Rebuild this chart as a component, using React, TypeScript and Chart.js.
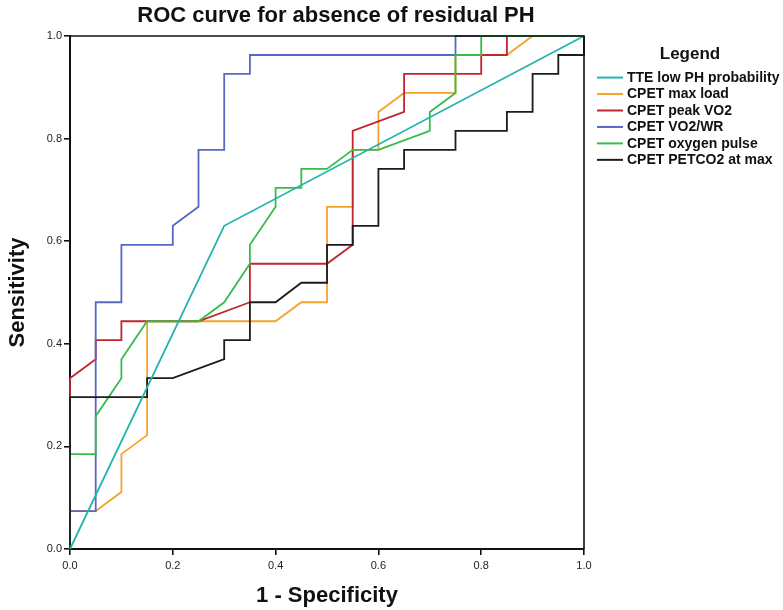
import React, { useEffect, useRef } from "react";
import { Chart, registerables } from "chart.js";

Chart.register(...registerables);

const TITLE = "ROC curve for absence of residual PH";
const X_TITLE = "1 - Specificity";
const Y_TITLE = "Sensitivity";
const LEGEND_TITLE = "Legend";

const seriesNames = [
  "TTE low PH probability",
  "CPET max load",
  "CPET peak VO2",
  "CPET VO2/WR",
  "CPET oxygen pulse",
  "CPET PETCO2 at max",
];
const seriesColors = ["#24b4ac", "#f5a32a", "#c2252f", "#5568c4", "#36bd4c", "#1c1c1c"];

const tteX = [0, 0.3, 1];
const tteY = [0, 0.63, 1];

const maxLoadX = [0, 0, 0.05, 0.1, 0.1, 0.15, 0.15, 0.4, 0.45, 0.5, 0.5, 0.55, 0.55, 0.6, 0.6, 0.65, 0.75, 0.75, 0.85, 0.9, 1];
const maxLoadY = [0, 0.074, 0.074, 0.111, 0.185, 0.222, 0.444, 0.444, 0.481, 0.481, 0.667, 0.667, 0.778, 0.778, 0.852, 0.889, 0.889, 0.963, 0.963, 1, 1];

const peakVO2X = [0, 0, 0.05, 0.05, 0.1, 0.1, 0.25, 0.35, 0.35, 0.5, 0.55, 0.55, 0.65, 0.65, 0.8, 0.8, 0.85, 0.85, 1];
const peakVO2Y = [0, 0.333, 0.37, 0.407, 0.407, 0.444, 0.444, 0.481, 0.556, 0.556, 0.593, 0.815, 0.852, 0.926, 0.926, 0.963, 0.963, 1, 1];

const vo2wrX = [0, 0, 0.05, 0.05, 0.1, 0.1, 0.2, 0.2, 0.25, 0.25, 0.3, 0.3, 0.35, 0.35, 0.75, 0.75, 1];
const vo2wrY = [0, 0.074, 0.074, 0.481, 0.481, 0.593, 0.593, 0.63, 0.667, 0.778, 0.778, 0.926, 0.926, 0.963, 0.963, 1, 1];

const o2PulseX = [0, 0, 0.05, 0.05, 0.1, 0.1, 0.15, 0.25, 0.3, 0.35, 0.35, 0.4, 0.4, 0.45, 0.45, 0.5, 0.55, 0.6, 0.7, 0.7, 0.75, 0.75, 0.8, 0.8, 1];
const o2PulseY = [0, 0.185, 0.185, 0.259, 0.333, 0.37, 0.444, 0.444, 0.481, 0.556, 0.593, 0.667, 0.704, 0.704, 0.741, 0.741, 0.778, 0.778, 0.815, 0.852, 0.889, 0.963, 0.963, 1, 1];

const petco2X = [0, 0, 0.15, 0.15, 0.2, 0.3, 0.3, 0.35, 0.35, 0.4, 0.45, 0.5, 0.5, 0.55, 0.55, 0.6, 0.6, 0.65, 0.65, 0.75, 0.75, 0.85, 0.85, 0.9, 0.9, 0.95, 0.95, 1, 1];
const petco2Y = [0, 0.296, 0.296, 0.333, 0.333, 0.37, 0.407, 0.407, 0.481, 0.481, 0.519, 0.519, 0.593, 0.593, 0.63, 0.63, 0.741, 0.741, 0.778, 0.778, 0.815, 0.815, 0.852, 0.852, 0.926, 0.926, 0.963, 0.963, 1];

const seriesX = [tteX, maxLoadX, peakVO2X, vo2wrX, o2PulseX, petco2X];
const seriesY = [tteY, maxLoadY, peakVO2Y, vo2wrY, o2PulseY, petco2Y];
const drawOrder = [-1, 4, 3, 2, 1, 0];

const FONT = "'Liberation Sans', Arial, Helvetica, sans-serif";

const extrasPlugin = {
  id: "extras",
  afterDatasetsDraw(chart: any) {
    const { ctx, chartArea } = chart;
    ctx.save();
    ctx.strokeStyle = "#111";
    ctx.lineWidth = 1.6;
    ctx.beginPath();
    ctx.moveTo(chartArea.left, chartArea.top);
    ctx.lineTo(chartArea.right, chartArea.top);
    ctx.lineTo(chartArea.right, chartArea.bottom);
    ctx.stroke();
    ctx.restore();
  },
  afterDraw(chart: any) {
    const { ctx } = chart;
    ctx.save();
    ctx.fillStyle = "#111";
    ctx.font = `bold 22px ${FONT}`;
    ctx.textAlign = "center";
    ctx.textBaseline = "middle";
    ctx.fillText(TITLE, 336, 16);
    ctx.font = `bold 17px ${FONT}`;
    ctx.fillText(LEGEND_TITLE, 690, 54);
    ctx.textAlign = "left";
    ctx.font = `bold 14px ${FONT}`;
    chart.data.datasets.forEach((ds: any, i: number) => {
      const y = 77.6 + i * 16.45;
      ctx.strokeStyle = ds.borderColor;
      ctx.lineWidth = 2;
      ctx.beginPath();
      ctx.moveTo(597, y);
      ctx.lineTo(623, y);
      ctx.stroke();
      ctx.fillStyle = "#111";
      ctx.fillText(ds.label, 627, y + 0.5);
    });
    ctx.restore();
  },
};

export default function App() {
  const ref = useRef<HTMLCanvasElement | null>(null);
  useEffect(() => {
    document.body.style.margin = "0";
    const canvas = ref.current;
    if (!canvas) return;
    Chart.defaults.font.family = FONT;
    const datasets = seriesNames.map((name, i) => ({
      label: name,
      data: seriesX[i].map((x, j) => ({ x, y: seriesY[i][j] })),
      borderColor: seriesColors[i],
      backgroundColor: seriesColors[i],
      borderWidth: 1.8,
      showLine: true,
      pointRadius: 0,
      tension: 0,
      order: drawOrder[i],
      clip: 3,
    }));
    const chart = new Chart(canvas, {
      type: "scatter",
      data: { datasets },
      plugins: [extrasPlugin],
      options: {
        animation: false,
        responsive: false,
        maintainAspectRatio: false,
        layout: { padding: { top: 36, right: 199, left: 0, bottom: 0 } },
        plugins: {
          legend: { display: false },
          title: { display: false },
          tooltip: { enabled: false },
        },
        scales: {
          x: {
            type: "linear",
            min: 0,
            max: 1,
            z: 1,
            ticks: {
              stepSize: 0.2,
              color: "#222",
              font: { size: 11 },
              padding: 4,
              maxRotation: 0,
              callback: (v: any) => Number(v).toFixed(1),
            },
            grid: { drawOnChartArea: false, drawTicks: true, tickLength: 6, color: "#111", lineWidth: 1.6 },
            border: { display: true, color: "#111", width: 2 },
            title: { display: true, text: X_TITLE, color: "#111", font: { size: 22, weight: "bold" }, padding: { top: 0, bottom: 1 } },
            afterFit: (s: any) => {
              s.height = 61;
              s.paddingLeft = 0;
              s.paddingRight = 0;
            },
          },
          y: {
            type: "linear",
            min: 0,
            max: 1,
            z: 1,
            ticks: {
              stepSize: 0.2,
              color: "#222",
              font: { size: 11 },
              padding: 2,
              callback: (v: any) => Number(v).toFixed(1),
            },
            grid: { drawOnChartArea: false, drawTicks: true, tickLength: 6, color: "#111", lineWidth: 1.6 },
            border: { display: true, color: "#111", width: 2 },
            title: { display: true, text: Y_TITLE, color: "#111", font: { size: 22, weight: "bold" }, padding: { top: 5, bottom: 0 } },
            afterFit: (s: any) => {
              s.width = 70;
              s.paddingTop = 0;
              s.paddingBottom = 0;
            },
          },
        },
      },
    } as any);
    return () => chart.destroy();
  }, []);
  return <canvas ref={ref} width={783} height={610} style={{ display: "block" }} />;
}
